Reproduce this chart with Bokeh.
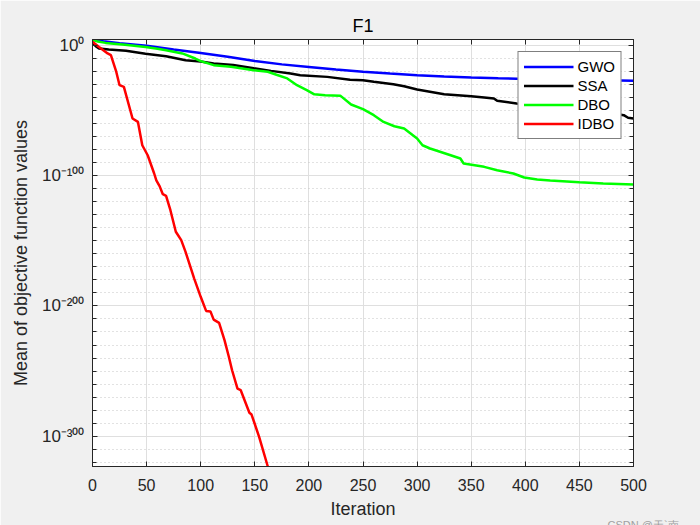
from bokeh.plotting import figure
from bokeh.models import Range1d, FixedTicker, LinearAxis, Title, CustomJSTickFormatter
from bokeh.embed import file_html
from bokeh.resources import INLINE

# ---- data (values given as log10 of the mean objective) ----
x_ticks = [0, 50, 100, 150, 200, 250, 300, 350, 400, 450, 500]
y_major_exp = [-300, -200, -100, 0]

gwo_iter = [0, 10, 25, 50, 75, 100, 125, 150, 175, 200, 225, 250, 275, 300, 325, 350, 375, 400, 450, 500]
gwo_log = [4.5, 3.2, 1.8, -0.2, -3.0, -5.7, -8.6, -11.9, -14.5, -16.5, -18.5, -20.2, -21.6, -22.8, -23.8, -24.6, -25.2, -25.7, -26.4, -27.0]

ssa_iter = [0, 3, 6, 15, 31, 49, 68, 86, 100, 112, 130, 149, 165, 183, 192, 217, 238, 250, 260, 278, 288, 300, 325, 350, 362, 371, 374, 392, 420, 450, 480, 491, 495, 500]
ssa_log = [1.5, -0.5, -2.3, -3.0, -4.1, -6.3, -8.2, -11.3, -12.3, -13.8, -15.0, -17.5, -19.5, -21.5, -22.8, -24.1, -26.3, -26.7, -27.9, -29.7, -31.3, -33.8, -37.4, -38.9, -39.9, -40.7, -42.5, -44.5, -47.0, -49.5, -52.0, -53.5, -55.5, -56.1]

dbo_iter = [0, 5, 12, 30, 49, 60, 68, 83, 95, 100, 112, 128, 149, 162, 170, 180, 189, 198, 205, 215, 229, 239, 250, 260, 269, 279, 288, 300, 305, 312, 331, 340, 343, 362, 374, 389, 399, 411, 423, 450, 472, 500]
dbo_log = [4.3, 3.0, 2.0, 0.5, -1.1, -2.5, -3.6, -6.1, -10.0, -12.0, -15.1, -16.4, -19.0, -20.2, -22.5, -25.3, -30.5, -34.3, -37.5, -38.2, -38.5, -45.3, -48.9, -53.5, -58.7, -62.0, -63.8, -71.4, -76.6, -79.1, -84.3, -86.8, -90.6, -93.2, -95.8, -98.3, -101.4, -102.9, -103.7, -105.0, -106.0, -106.8]

idbo_iter = [0, 6, 14, 17, 22, 25, 29, 37, 42, 46, 51, 57, 59, 62, 65, 68, 72, 77, 82, 86, 94, 100, 105, 109, 112, 117, 122, 126, 129, 134, 137, 145, 147, 154, 162]
idbo_log = [2.8, -1.1, -6.1, -7.4, -20.3, -30.5, -31.8, -56.1, -58.7, -76.6, -84.3, -98.3, -103.6, -108.0, -114.2, -115.5, -126.5, -143.0, -149.5, -158.5, -179.0, -193.0, -203.8, -204.2, -210.5, -213.0, -226.3, -239.0, -249.4, -263.5, -264.7, -282.0, -283.4, -300.6, -323.3]

series = [
    ("GWO", gwo_iter, gwo_log, "#0000ff"),
    ("SSA", ssa_iter, ssa_log, "#000000"),
    ("DBO", dbo_iter, dbo_log, "#00ff00"),
    ("IDBO", idbo_iter, idbo_log, "#ff0000"),
]

FONT = "Liberation Sans"
TXT = "#262626"

SUP = str.maketrans("-0123456789", "⁻⁰¹²³⁴⁵⁶⁷⁸⁹")
def pow10_label(e):
    return "10" + str(e).translate(SUP)

p = figure(width=700, height=525, output_backend="svg", toolbar_location=None,
           x_range=Range1d(0, 500), y_range=Range1d(-323.3, 4.6),
           min_border_left=92, min_border_right=67, min_border_top=39, min_border_bottom=59,
           title="F1")

p.border_fill_color = "#f0f0f0"
p.background_fill_color = "#ffffff"
p.outline_line_color = TXT
p.outline_line_width = 1

p.title.align = "center"
p.title.text_font = FONT
p.title.text_font_size = "18px"
p.title.text_font_style = "normal"
p.title.text_color = "#000000"
p.title.standoff = 8

for name, xs, ls, col in series:
    p.line(xs, ls, line_color=col, line_width=2.5, legend_label=name)

xticker = FixedTicker(ticks=x_ticks, minor_ticks=[])
minor_exp = [e for e in range(-320, 1, 10) if e not in y_major_exp]
yticker = FixedTicker(ticks=y_major_exp, minor_ticks=minor_exp)

def style_axis(ax):
    ax.axis_line_color = TXT
    ax.axis_line_width = 1
    ax.major_tick_line_color = TXT
    ax.minor_tick_line_color = TXT
    ax.major_tick_in = 5
    ax.major_tick_out = 0
    ax.minor_tick_in = 4
    ax.minor_tick_out = 0
    ax.major_label_text_font = FONT
    ax.major_label_text_font_size = "16px"
    ax.major_label_text_color = TXT
    ax.axis_label_text_font = FONT
    ax.axis_label_text_font_size = "18px"
    ax.axis_label_text_font_style = "normal"
    ax.axis_label_text_color = TXT

xa = p.xaxis[0]
xa.ticker = xticker
xa.axis_label = "Iteration"
style_axis(xa)
xa.major_label_standoff = 12
xa.axis_label_standoff = 5

ya = p.yaxis[0]
ya.ticker = yticker
ya.major_label_overrides = {e: pow10_label(e) for e in y_major_exp}
ya.axis_label = "Mean of objective function values"
style_axis(ya)
ya.major_label_text_font_size = "17px"
ya.major_label_standoff = 8
ya.axis_label_standoff = 8

blank = "return ''"
ra = LinearAxis(ticker=yticker, formatter=CustomJSTickFormatter(code=blank))
style_axis(ra)
ra.major_label_standoff = 0
p.add_layout(ra, "right")

ta = LinearAxis(ticker=xticker, formatter=CustomJSTickFormatter(code=blank))
style_axis(ta)
ta.major_label_standoff = 0
p.add_layout(ta, "above")

p.xgrid.ticker = xticker
p.xgrid.grid_line_color = "#dfdfdf"
p.xgrid.grid_line_width = 1
p.ygrid.ticker = yticker
p.ygrid.grid_line_color = "#dfdfdf"
p.ygrid.grid_line_width = 1
p.ygrid.minor_grid_line_color = "#c4c4c4"
p.ygrid.minor_grid_line_dash = "1 3"
p.ygrid.minor_grid_line_width = 1

lg = p.legend[0]
lg.location = "top_right"
lg.margin = 12
lg.padding = 5
lg.spacing = 0
lg.label_height = 19
lg.glyph_height = 19
lg.glyph_width = 50
lg.label_standoff = 4
lg.border_line_color = "#000000"
lg.border_line_width = 1
lg.background_fill_color = "#ffffff"
lg.background_fill_alpha = 1
lg.label_text_font = FONT
lg.label_text_font_size = "15px"
lg.label_text_color = "#000000"

# watermark in the bottom margin, drawn as a side-panel title
wm = Title(text="CSDN @天`南", align="left", offset=515, standoff=-19,
           text_font=FONT, text_font_size="11px", text_color="#a0a0a0",
           text_font_style="normal")
p.add_layout(wm, "below")

open("out.html", "w").write(file_html(p, INLINE))
